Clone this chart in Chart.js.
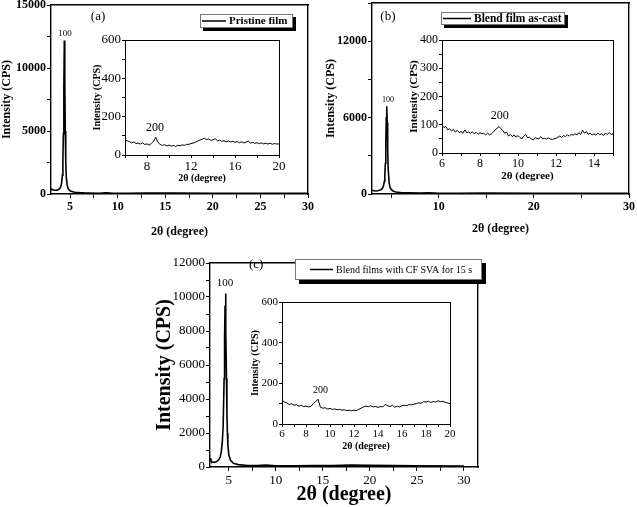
<!DOCTYPE html>
<html>
<head>
<meta charset="utf-8">
<script src="https://cdn.jsdelivr.net/npm/chart.js@4.4.0/dist/chart.umd.min.js"></script>
<style>
  body { margin: 0; background: #fff; }
  #fig { position: relative; width: 637px; height: 507px; overflow: hidden; background: #fff; }
  .box { position: absolute; }
</style>
</head>
<body>
<div id="fig">
  <div class="box" id="boxA"><canvas id="chartA"></canvas></div>
  <div class="box" id="boxB"><canvas id="chartB"></canvas></div>
  <div class="box" id="boxAi"><canvas id="chartAi"></canvas></div>
  <div class="box" id="boxBi"><canvas id="chartBi"></canvas></div>
  <div class="box" id="boxCi"><canvas id="chartCi"></canvas></div>
  <div class="box" id="boxC"><canvas id="chartC"></canvas></div>
</div>
<script>
var SERIF = '"Liberation Serif", "Times New Roman", serif';
Chart.defaults.font.family = SERIF;
Chart.defaults.color = '#000';

/* --- (a) pristine film, full scan --- */
var mainAX = [3.0, 3.1, 3.2, 3.4, 3.6, 3.8, 3.9, 4.0, 4.1, 4.2, 4.25, 4.3, 4.35, 4.4, 4.45, 4.5, 4.55, 4.6, 4.7, 4.8,
  4.9, 5.0, 5.2, 5.5, 6.0, 6.5, 7.0, 8.0, 8.8, 9.5, 11, 13, 14, 16, 20, 25, 30];
var mainAY = [420, 360, 330, 300, 310, 360, 420, 540, 800, 1500, 2600, 4800, 8500, 12200, 9000, 5000, 2600, 1400, 700, 450,
  330, 260, 190, 140, 110, 90, 80, 65, 90, 60, 55, 80, 80, 70, 60, 55, 50];

/* --- (a) inset, 6-20 deg --- */
var insetAX = [6.0, 6.2, 6.4, 6.6, 6.8, 7.0, 7.2, 7.4, 7.6, 7.8, 8.0, 8.2, 8.4, 8.6, 8.8, 9.0, 9.2, 9.4, 9.6, 9.8,
  10.0, 10.2, 10.4, 10.6, 10.8, 11.0, 11.2, 11.4, 11.6, 11.8, 12.0, 12.2, 12.4, 12.6, 12.8, 13.0, 13.2, 13.4, 13.6, 13.8,
  14.0, 14.2, 14.4, 14.6, 14.8, 15.0, 15.2, 15.4, 15.6, 15.8, 16.0, 16.2, 16.4, 16.6, 16.8, 17.0, 17.2, 17.4, 17.6, 17.8,
  18.0, 18.2, 18.4, 18.6, 18.8, 19.0, 19.2, 19.4, 19.6, 19.8, 20.0];
var insetAY = [80, 74, 70, 64, 68, 60, 62, 57, 63, 55, 58, 52, 60, 72, 92, 66, 55, 50, 54, 47,
  52, 46, 50, 45, 51, 48, 53, 50, 56, 55, 60, 62, 67, 72, 78, 82, 88, 80, 84, 76,
  80, 85, 74, 77, 72, 74, 70, 73, 68, 71, 66, 70, 64, 69, 63, 67, 72, 62, 66, 61,
  64, 60, 63, 58, 62, 57, 61, 56, 60, 57, 58];

/* --- (b) blend film as-cast, full scan --- */
var mainBX = [3.0, 3.2, 3.4, 3.6, 3.8, 4.0, 4.1, 4.2, 4.3, 4.35, 4.4, 4.45, 4.5, 4.55, 4.6, 4.65, 4.7, 4.8, 4.9, 5.0,
  5.2, 5.5, 6, 7, 8, 9, 10, 12, 15, 20, 25, 30];
var mainBY = [300, 260, 240, 250, 290, 370, 450, 620, 1000, 1500, 2400, 4000, 6000, 6900, 5600, 3400, 2000, 900, 520, 380,
  240, 160, 120, 90, 75, 90, 60, 55, 65, 60, 55, 50];

/* --- (b) inset, 6-15 deg --- */
var insetBX = [6.0, 6.1, 6.2, 6.3, 6.4, 6.5, 6.6, 6.7, 6.8, 6.9, 7.0, 7.1, 7.2, 7.3, 7.4, 7.5, 7.6, 7.7, 7.8, 7.9,
  8.0, 8.1, 8.2, 8.3, 8.4, 8.5, 8.6, 8.7, 8.8, 8.9, 9.0, 9.1, 9.2, 9.3, 9.4, 9.5, 9.6, 9.7, 9.8, 9.9,
  10.0, 10.1, 10.2, 10.3, 10.4, 10.5, 10.6, 10.7, 10.8, 10.9, 11.0, 11.1, 11.2, 11.3, 11.4, 11.5, 11.6, 11.7, 11.8, 11.9,
  12.0, 12.1, 12.2, 12.3, 12.4, 12.5, 12.6, 12.7, 12.8, 12.9, 13.0, 13.1, 13.2, 13.3, 13.4, 13.5, 13.6, 13.7, 13.8, 13.9,
  14.0, 14.1, 14.2, 14.3, 14.4, 14.5, 14.6, 14.7, 14.8, 14.9, 15.0];
var insetBY = [98, 90, 94, 82, 86, 78, 84, 74, 80, 72, 76, 70, 82, 72, 74, 70, 75, 68, 73, 66,
  72, 68, 70, 64, 70, 65, 68, 74, 82, 88, 94, 86, 80, 70, 74, 60, 66, 58, 64, 56,
  62, 55, 50, 60, 66, 54, 56, 50, 46, 54, 52, 50, 58, 50, 52, 49, 53, 50, 48, 50,
  52, 56, 60, 55, 62, 58, 64, 60, 66, 63, 68, 64, 72, 66, 80, 70, 76, 66, 70, 64,
  68, 63, 70, 65, 68, 62, 70, 66, 72, 66, 68];

/* --- (c) blend films with CF SVA 15 s, full scan --- */
var mainCX = [3.0, 3.1, 3.2, 3.4, 3.6, 3.8, 4.0, 4.1, 4.2, 4.3, 4.4, 4.5, 4.55, 4.6, 4.65, 4.7, 4.75, 4.8, 4.85, 4.9,
  5.0, 5.2, 5.5, 6, 7, 8, 9, 10, 12, 14, 16, 18, 20, 25, 30];
var mainCY = [520, 380, 310, 270, 290, 360, 480, 620, 900, 1400, 2400, 5200, 7500, 9500, 10200, 8000, 5200, 3200, 2000, 1300,
  700, 380, 220, 140, 90, 80, 110, 70, 65, 85, 90, 110, 100, 70, 50];

/* --- (c) inset, 6-20 deg --- */
var insetCX = [6.0, 6.2, 6.4, 6.6, 6.8, 7.0, 7.2, 7.4, 7.6, 7.8, 8.0, 8.2, 8.4, 8.6, 8.8, 9.0, 9.2, 9.4, 9.6, 9.8,
  10.0, 10.2, 10.4, 10.6, 10.8, 11.0, 11.2, 11.4, 11.6, 11.8, 12.0, 12.2, 12.4, 12.6, 12.8, 13.0, 13.2, 13.4, 13.6, 13.8,
  14.0, 14.2, 14.4, 14.6, 14.8, 15.0, 15.2, 15.4, 15.6, 15.8, 16.0, 16.2, 16.4, 16.6, 16.8, 17.0, 17.2, 17.4, 17.6, 17.8,
  18.0, 18.2, 18.4, 18.6, 18.8, 19.0, 19.2, 19.4, 19.6, 19.8, 20.0];
var insetCY = [118, 108, 104, 96, 100, 92, 95, 88, 92, 86, 88, 84, 86, 100, 110, 122, 82, 78, 80, 74,
  76, 72, 74, 70, 72, 68, 70, 66, 68, 65, 68, 66, 72, 78, 84, 88, 85, 90, 84, 86,
  82, 86, 84, 96, 90, 86, 92, 82, 88, 84, 90, 92, 90, 96, 94, 98, 100, 104, 102, 110,
  108, 112, 106, 110, 108, 114, 110, 112, 106, 104, 100];

/* --- helpers --- */
function pts(xs, ys) {
  return xs.map(function (x, i) { return { x: x, y: ys[i] }; });
}

// label only the ticks that fall on a multiple of `step`
function every(step) {
  return function (v) {
    var r = Math.abs(v / step - Math.round(v / step));
    return r < 1e-6 ? v : '';
  };
}

function trace(xs, ys, width) {
  return { data: pts(xs, ys), borderColor: '#000', borderWidth: width, pointRadius: 0, tension: 0, fill: false };
}

function axis(o) {
  return {
    type: 'linear',
    min: o.min,
    max: o.max,
    ticks: {
      autoSkip: false, maxRotation: 0, padding: o.pad,
      font: o.tickFont, color: '#000', callback: every(o.label)
    },
    // ticks on every multiple of the step, no forced ticks at the bounds
    afterBuildTicks: function (s) {
      var t = [];
      var v = Math.ceil(o.min / o.step - 1e-9) * o.step;
      for (; v <= o.max + 1e-9; v += o.step) t.push({ value: +v.toFixed(6) });
      s.ticks = t;
    },
    grid: { drawOnChartArea: false, drawTicks: true, tickLength: o.tick, color: '#000' },
    border: { display: true, color: '#000', width: o.line },
    title: { display: true, text: o.title, font: o.titleFont, color: '#000', padding: 0 },
    afterFit: function (s) {
      if (s.isHorizontal()) s.height = o.size; else s.width = o.size;
    }
  };
}

// plain closing edge (top / right) of the plot frame
function edge(pos, bound, line) {
  return {
    type: 'linear', position: pos, min: bound[0], max: bound[1],
    ticks: { display: false },
    grid: { display: false, drawTicks: false },
    border: { display: true, color: '#000', width: line },
    afterFit: function (s) {
      if (s.isHorizontal()) s.height = 0; else s.width = 0;
    }
  };
}

/* peak labels, panel tag and boxed legend (config kept in the closure) */
function figMarks(m) {
  return {
    id: 'figMarks',
    afterDraw: function (chart) {
      var ctx = chart.ctx, a = chart.chartArea;
      var w = a.right - a.left, h = a.bottom - a.top;
      ctx.save();
      ctx.fillStyle = '#000';
      ctx.textAlign = 'center';
      ctx.textBaseline = 'middle';
      (m.notes || []).forEach(function (n) {
        ctx.font = n.font;
        ctx.fillText(n.text, chart.scales.x.getPixelForValue(n.x), chart.scales.y.getPixelForValue(n.y));
      });
      if (m.tag) {
        ctx.font = m.tag.font;
        ctx.fillText(m.tag.text, a.left + m.tag.fx * w, a.top + m.tag.fy * h);
      }
      var lg = m.legend;
      if (lg) {
        var x0 = Math.round(a.left + lg.fx0 * w), x1 = Math.round(a.left + lg.fx1 * w);
        var y0 = Math.round(a.top + lg.fy0 * h), y1 = Math.round(a.top + lg.fy1 * h);
        var s = lg.shadow;
        ctx.fillStyle = '#000';
        ctx.fillRect(x1, y0 + s, s, y1 - y0);
        ctx.fillRect(x0 + s, y1, x1 - x0, s);
        ctx.fillStyle = '#fff';
        ctx.fillRect(x0, y0, x1 - x0, y1 - y0);
        ctx.lineWidth = 1;
        ctx.strokeStyle = '#777';
        ctx.strokeRect(x0 + 0.5, y0 + 0.5, x1 - x0 - 1, y1 - y0 - 1);
        var ym = (y0 + y1) / 2;
        ctx.strokeStyle = '#000';
        ctx.lineWidth = 1.5;
        ctx.beginPath();
        ctx.moveTo(x0 + lg.start, ym);
        ctx.lineTo(x0 + lg.start + lg.line, ym);
        ctx.stroke();
        ctx.fillStyle = '#000';
        ctx.font = lg.font;
        ctx.textAlign = 'left';
        ctx.fillText(lg.text, x0 + lg.start + lg.line + 3, ym + 0.5);
      }
      ctx.restore();
    }
  };
}

function panel(id, area, yw, xh, padT, padR, datasets, xOpt, yOpt, marks) {
  var box = document.getElementById('box' + id);
  box.style.left = (area.l - yw) + 'px';
  box.style.top = (area.t - padT) + 'px';
  box.style.width = (area.r - area.l + yw + padR) + 'px';
  box.style.height = (area.b - area.t + padT + xh) + 'px';
  xOpt.size = xh;
  yOpt.size = yw;
  xOpt.line = yOpt.line = marks.frame;
  return new Chart(document.getElementById('chart' + id), {
    type: 'line',
    data: { datasets: datasets },
    options: {
      responsive: true,
      maintainAspectRatio: false,
      animation: false,
      layout: { padding: { top: padT, right: padR, left: 0, bottom: 0 } },
      plugins: { legend: { display: false }, tooltip: { enabled: false } },
      scales: {
        x: axis(xOpt),
        y: axis(yOpt),
        xTop: edge('top', [xOpt.min, xOpt.max], marks.frame),
        yRight: edge('right', [yOpt.min, yOpt.max], marks.frame)
      }
    },
    plugins: [figMarks(marks)]
  });
}

var TH = '2\u03b8 (degree)', TY = 'Intensity (CPS)';

/* --- (a) --- */
panel('A', { l: 51, t: 5, r: 308, b: 194 }, 51, 45, 8, 12,
  [trace(mainAX, mainAY, 1.6)],
  { min: 3, max: 30, step: 2.5, label: 5, pad: 2, tick: 4, title: TH,
    tickFont: { size: 12, weight: 'bold' }, titleFont: { size: 12, weight: 'bold' } },
  { min: 0, max: 15000, step: 2500, label: 5000, pad: 1, tick: 4, title: TY,
    tickFont: { size: 12, weight: 'bold' }, titleFont: { size: 12, weight: 'bold' } },
  { frame: 1.4,
    notes: [{ text: '100', x: 4.47, y: 12780, font: '9px ' + SERIF }],
    tag: { text: '(a)', fx: 0.183, fy: 0.058, font: '13px ' + SERIF },
    legend: { fx0: 0.58, fx1: 0.94, fy0: 0.048, fy1: 0.12, shadow: 3, start: 2, line: 24,
      text: 'Pristine film', font: 'bold 11px ' + SERIF } });

panel('Ai', { l: 125, t: 40, r: 279, b: 155 }, 34, 29, 10, 10,
  [trace(insetAX, insetAY, 1)],
  { min: 6, max: 20, step: 2, label: 4, pad: 1, tick: 3, title: TH,
    tickFont: { size: 13 }, titleFont: { size: 10, weight: 'bold' } },
  { min: 0, max: 600, step: 100, label: 200, pad: 1, tick: 3, title: TY,
    tickFont: { size: 13 }, titleFont: { size: 10, weight: 'bold' } },
  { frame: 1,
    notes: [{ text: '200', x: 8.73, y: 141, font: '12px ' + SERIF }] });

/* --- (b) --- */
panel('B', { l: 372, t: 3, r: 630, b: 194 }, 48, 42, 8, 7,
  [trace(mainBX, mainBY, 1.6)],
  { min: 3, max: 30, step: 5, label: 10, pad: 2, tick: 4, title: TH,
    tickFont: { size: 12, weight: 'bold' }, titleFont: { size: 12, weight: 'bold' } },
  { min: 0, max: 15000, step: 3000, label: 6000, pad: 1, tick: 4, title: TY,
    tickFont: { size: 12, weight: 'bold' }, titleFont: { size: 12, weight: 'bold' } },
  { frame: 1.4,
    notes: [{ text: '100', x: 4.67, y: 7420, font: '8px ' + SERIF }],
    tag: { text: '(b)', fx: 0.062, fy: 0.068, font: '13px ' + SERIF },
    legend: { fx0: 0.267, fx1: 0.752, fy0: 0.047, fy1: 0.115, shadow: 3, start: 2, line: 28,
      text: 'Blend film as-cast', font: 'bold 11.5px ' + SERIF } });

panel('Bi', { l: 442, t: 40, r: 613, b: 153 }, 34, 30, 10, 10,
  [trace(insetBX, insetBY, 1)],
  { min: 6, max: 15, step: 1, label: 2, pad: 1, tick: 3, title: TH,
    tickFont: { size: 12 }, titleFont: { size: 11, weight: 'bold' } },
  { min: 0, max: 400, step: 50, label: 100, pad: 1, tick: 3, title: TY,
    tickFont: { size: 12 }, titleFont: { size: 11, weight: 'bold' } },
  { frame: 1,
    notes: [{ text: '200', x: 9.04, y: 132, font: '12px ' + SERIF }] });

/* --- (c) --- */
panel('Ci', { l: 282, t: 302, r: 450, b: 424 }, 33, 28, 10, 10,
  [trace(insetCX, insetCY, 1)],
  { min: 6, max: 20, step: 1, label: 2, pad: 1, tick: 3, title: TH,
    tickFont: { size: 11 }, titleFont: { size: 10, weight: 'bold' } },
  { min: 0, max: 600, step: 100, label: 200, pad: 1, tick: 3, title: TY,
    tickFont: { size: 11 }, titleFont: { size: 10, weight: 'bold' } },
  { frame: 1,
    notes: [{ text: '200', x: 9.2, y: 165, font: '10px ' + SERIF }] });

panel('C', { l: 210, t: 263, r: 478, b: 467 }, 57, 40, 10, 14,
  [trace(mainCX, mainCY, 1.6)],
  { min: 3, max: 31.5, step: 2.5, label: 5, pad: 2, tick: 4, title: TH,
    tickFont: { size: 13 }, titleFont: { size: 20, weight: 'bold' } },
  { min: 0, max: 12000, step: 1000, label: 2000, pad: 1, tick: 4, title: TY,
    tickFont: { size: 13 }, titleFont: { size: 20, weight: 'bold' } },
  { frame: 1.4,
    notes: [{ text: '100', x: 4.6, y: 10820, font: '11px ' + SERIF }],
    tag: { text: '(c)', fx: 0.172, fy: 0.01, font: '13px ' + SERIF },
    legend: { fx0: 0.317, fx1: 1.015, fy0: -0.02, fy1: 0.083, shadow: 4, start: 15, line: 23,
      text: 'Blend films with CF SVA for 15 s', font: '10px ' + SERIF } });
</script>
</body>
</html>
